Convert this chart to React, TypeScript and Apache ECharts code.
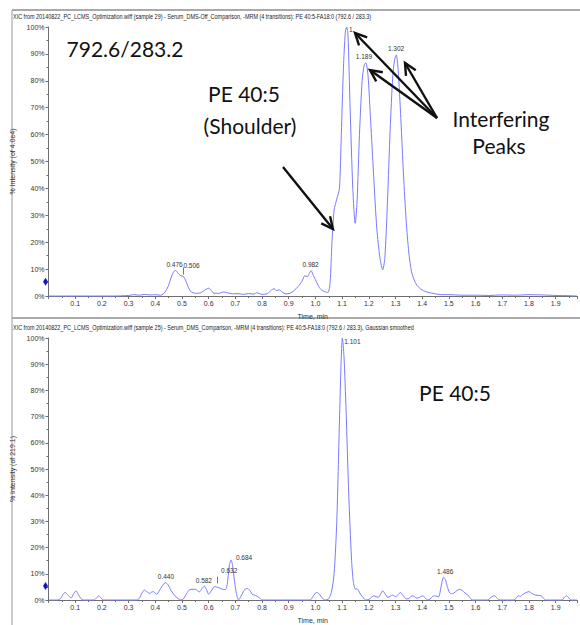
import React, { useEffect, useRef } from "react";
import * as echarts from "echarts";

// ---------- data ----------
const topTimes = [
  0.0, 0.05, 0.1, 0.15, 0.2, 0.25, 0.3, 0.32, 0.34, 0.36, 0.38, 0.4, 0.42, 0.43, 0.44, 0.45, 0.46, 0.47, 0.476,
  0.485, 0.495, 0.506, 0.515, 0.525, 0.535, 0.55, 0.57, 0.59, 0.6, 0.61, 0.62, 0.64, 0.655, 0.67, 0.69, 0.71,
  0.73, 0.75, 0.77, 0.78, 0.8, 0.82, 0.835, 0.845, 0.855, 0.865, 0.875, 0.89, 0.905, 0.92, 0.935, 0.95, 0.96,
  0.97, 0.975, 0.984, 0.99, 1.0, 1.01, 1.02, 1.035, 1.047, 1.055, 1.062, 1.07, 1.08, 1.09, 1.097, 1.105, 1.112,
  1.117, 1.122, 1.13, 1.14, 1.149, 1.156, 1.165, 1.175, 1.183, 1.189, 1.197, 1.207, 1.218, 1.23, 1.242, 1.252,
  1.26, 1.27, 1.28, 1.29, 1.297, 1.303, 1.31, 1.32, 1.33, 1.34, 1.35, 1.36, 1.37, 1.38, 1.39, 1.4, 1.42, 1.44,
  1.46, 1.48, 1.5, 1.55, 1.6, 1.65, 1.7, 1.75, 1.8, 1.85, 1.9, 1.95, 1.98,
];
const topIntensity = [
  0, 0, 0, 0, 0, 0, 0.2, 0.5, 0.3, 0.6, 0.4, 0.5, 0.3, 0.8, 2.0, 4.0, 7.0, 9.2, 9.5,
  8.5, 7.6, 7.2, 5.5, 3.0, 1.5, 1.0, 1.2, 2.5, 2.9, 2.0, 1.0, 1.0, 1.5, 1.2, 0.8, 0.9,
  0.6, 0.9, 0.7, 1.2, 0.6, 0.9, 2.2, 2.7, 2.0, 2.3, 1.5, 0.8, 1.0, 2.0, 3.5, 5.5, 7.5,
  7.2, 8.0, 9.4, 8.2, 6.0, 4.0, 2.5, 1.6, 1.3, 5.0, 20, 32, 36, 40, 60, 85, 98,
  100, 97, 70, 40, 27, 35, 60, 80, 86, 86.7, 82, 65, 45, 25, 14, 9.7,
  14, 35, 62, 82, 88, 89.6, 84, 66, 45, 28, 16, 9, 6, 4, 3, 2.2, 1.4, 1.0,
  0.6, 0.5, 0.5, 0.3, 0.3, 0.2, 0.4, 0.3, 0.5, 0.4, 0.2, 0.1, 0,
];

const bottomTimes = [
  0.0, 0.03, 0.045, 0.055, 0.062, 0.072, 0.085, 0.095, 0.103, 0.112, 0.122, 0.13, 0.17, 0.18, 0.188, 0.196,
  0.205, 0.33, 0.34, 0.35, 0.359, 0.368, 0.378, 0.386, 0.393, 0.405, 0.415, 0.425, 0.438, 0.448, 0.46, 0.472,
  0.485, 0.496, 0.505, 0.515, 0.525, 0.534, 0.55, 0.565, 0.575, 0.584, 0.592, 0.6, 0.61, 0.618, 0.625, 0.634,
  0.643, 0.655, 0.665, 0.672, 0.678, 0.684, 0.69, 0.697, 0.704, 0.712, 0.72, 0.73, 0.738, 0.746, 0.755, 0.765,
  0.771, 0.78, 0.79, 0.8, 0.98, 0.99, 1.0, 1.005, 1.015, 1.025, 1.037, 1.05, 1.06, 1.07, 1.08, 1.09, 1.096,
  1.101, 1.107, 1.115, 1.125, 1.135, 1.142, 1.15, 1.156, 1.162, 1.17, 1.18, 1.188, 1.2, 1.21, 1.219, 1.227,
  1.235, 1.244, 1.252, 1.262, 1.271, 1.28, 1.29, 1.3, 1.31, 1.318, 1.328, 1.34, 1.35, 1.358, 1.365, 1.372,
  1.38, 1.39, 1.402, 1.412, 1.42, 1.43, 1.438, 1.446, 1.455, 1.462, 1.468, 1.474, 1.48, 1.487, 1.495, 1.502,
  1.51, 1.518, 1.53, 1.54, 1.55, 1.56, 1.57, 1.58, 1.587, 1.645, 1.655, 1.665, 1.671, 1.68, 1.69, 1.745,
  1.755, 1.762, 1.768, 1.775, 1.785, 1.8, 1.81, 1.82, 1.83, 1.846, 1.855, 1.862, 1.925, 1.932, 1.94, 1.948,
  1.958, 1.98,
];
const bottomIntensity = [
  0, 0, 0.5, 2.2, 2.9, 2.0, 0.8, 2.5, 3.5, 2.0, 0.5, 0, 0, 0.8, 1.6, 0.9,
  0, 0, 0.6, 2.6, 3.8, 3.2, 2.5, 3.0, 3.2, 2.2, 3.5, 5.2, 6.6, 5.8, 3.5, 1.8,
  0.6, 0, 0.4, 2.0, 3.6, 4.1, 4.1, 3.1, 4.3, 5.3, 4.0, 2.2, 3.5, 4.8, 5.1, 4.8,
  4.5, 4.0, 4.1, 8, 13.5, 15.3, 13, 7, 2.5, 0, 1.2, 3.2, 4.2, 4.4, 3.5, 2.0,
  1.9, 1.5, 0.8, 0, 0, 1.2, 2.6, 2.9, 2.2, 0.8, 0, 0.5, 3, 10, 30, 68, 90,
  100, 93, 72, 40, 16, 7, 4.1, 4.3, 3.5, 2.0, 0.8, 0, 0.2, 1.0, 1.6, 1.3,
  1.0, 2.2, 3.5, 2.2, 1.0, 1.4, 1.9, 1.3, 2.0, 2.9, 1.8, 0.4, 0.6, 1.4, 1.6, 1.2,
  0.7, 1.0, 1.6, 0.8, 0, 0.4, 1.3, 1.6, 1.4, 1.3, 3.5, 6.8, 8.7, 7.8, 4.8, 2.9,
  2.4, 2.6, 3.6, 4.1, 3.6, 2.7, 2.0, 0.8, 0, 0, 0.8, 1.5, 1.6, 0.8, 0, 0,
  1.2, 1.6, 1.4, 2.0, 2.6, 3.2, 2.6, 2.0, 1.8, 1.6, 0.6, 0, 0, 1.0, 1.6, 1.0,
  0, 0,
];

const topPeakTimes = [1.117, 1.189, 1.302, 0.476, 0.506, 0.982];
const topPeakValues = [100, 86.7, 89.6, 9.4, 6.8, 9.4];
const topPeakLabels = ["1.", "1.189", "1.302", "0.476", "0.506", "0.982"];

const bottomPeakTimes = [1.101, 0.44, 0.582, 0.632, 0.684, 1.486];
const bottomPeakValues = [100, 6.6, 5.3, 5.1, 15.3, 8.7];
const bottomPeakLabels = ["1.101", "0.440", "0.582", "0.632", "0.684", "1.486"];

const yTickValues = [0, 10, 20, 30, 40, 50, 60, 70, 80, 90, 100];
const xTickLabels = ["0.1", "0.2", "0.3", "0.4", "0.5", "0.6", "0.7", "0.8", "0.9", "1.0", "1.1", "1.2", "1.3", "1.4", "1.5", "1.6", "1.7", "1.8", "1.9"];

const topHeader =
  "XIC from 20140822_PC_LCMS_Optimization.wiff (sample 29) - Serum_DMS-Off_Comparison, -MRM (4 transitions): PE 40:5-FA18:0 (792.6 / 283.3)";
const bottomHeader =
  "XIC from 20140822_PC_LCMS_Optimization.wiff (sample 25) - Serum_DMS_Comparison, -MRM (4 transitions): PE 40:5-FA18:0 (792.6 / 283.3), Gaussian smoothed";
const topYName = "% Intensity (of 4.0e4)";
const bottomYName = "% Intensity (of 219.1)";
const xName = "Time, min";

// ---------- styles (label offsets in px) ----------
const topLabelOffsets: [number, number][] = [[5, 8], [-2, 0], [0, 0], [-1, 0], [8, -6], [0, 0]];
const bottomLabelOffsets: [number, number][] = [[10, 9], [0, 0], [0, 0], [12, -10], [13, 4], [0, 0]];

const NARROW = "'Liberation Sans Narrow', 'Liberation Sans', Arial, sans-serif";
const BIG = "Lato, 'Open Sans', sans-serif";
const TRACE = "#7a7aff";
const AXIS = "#6e6e6e";
const LABEL = "#333333";

function arrow(x1: number, y1: number, x2: number, y2: number) {
  const a = Math.atan2(y2 - y1, x2 - x1);
  const L = 13;
  const s = 0.45;
  const p1 = [x2 - L * Math.cos(a - s), y2 - L * Math.sin(a - s)];
  const p2 = [x2 - L * Math.cos(a + s), y2 - L * Math.sin(a + s)];
  return [
    { type: "line", shape: { x1, y1, x2, y2 }, style: { stroke: "#111", lineWidth: 2.4 }, z: 100 },
    { type: "polyline", shape: { points: [p1, [x2, y2], p2] }, style: { stroke: "#111", lineWidth: 2.4, fill: null }, z: 100 },
  ];
}

function bigText(text: string, x: number, y: number) {
  return {
    type: "text",
    x,
    y,
    z: 100,
    style: {
      text,
      fontSize: 21,
      fontFamily: BIG,
      fill: "#111",
      textAlign: "center",
      textVerticalAlign: "middle",
      align: "center",
      verticalAlign: "middle",
    },
  };
}

function headerText(text: string, y: number, scaleX: number) {
  return {
    type: "text",
    x: 13,
    y,
    scaleX,
    z: 100,
    style: {
      text,
      fontSize: 7.5,
      fontFamily: "'Liberation Sans', Arial, sans-serif",
      fill: "#222",
      textAlign: "left",
      textVerticalAlign: "middle",
      align: "left",
      verticalAlign: "middle",
    },
  };
}

function xAxisCfg(gridIndex: number) {
  return {
    type: "value",
    gridIndex,
    min: 0,
    max: 1.98,
    interval: 0.1,
    name: xName,
    nameLocation: "middle",
    nameGap: 17,
    nameTextStyle: { fontSize: 7, fontFamily: NARROW, color: LABEL },
    axisLine: { show: true, onZero: false, lineStyle: { color: AXIS, width: 1 } },
    axisTick: { show: true, length: 3, lineStyle: { color: AXIS } },
    minorTick: { show: true, splitNumber: 2, length: 2, lineStyle: { color: AXIS } },
    splitLine: { show: false },
    axisLabel: {
      fontSize: 7,
      fontFamily: NARROW,
      color: LABEL,
      margin: 4,
      formatter: (v: number) => {
        const idx = Math.round(v * 10) - 1;
        if (Math.abs(v * 10 - Math.round(v * 10)) > 0.01) return "";
        return xTickLabels[idx] ?? "";
      },
    },
  };
}

function yAxisCfg(gridIndex: number, name: string) {
  return {
    type: "value",
    gridIndex,
    min: 0,
    max: 100,
    interval: 10,
    name,
    nameLocation: "middle",
    nameGap: 30,
    nameTextStyle: { fontSize: 7, fontFamily: NARROW, color: LABEL },
    axisLine: { show: true, lineStyle: { color: AXIS, width: 1 } },
    axisTick: { show: true, length: 3, lineStyle: { color: AXIS } },
    minorTick: { show: true, splitNumber: 2, length: 2, lineStyle: { color: AXIS } },
    splitLine: { show: false },
    axisLabel: {
      fontSize: 7,
      fontFamily: NARROW,
      color: LABEL,
      margin: 4,
      formatter: (v: number) => (yTickValues.includes(Math.round(v)) ? `${Math.round(v)}%` : ""),
    },
  };
}

function traceSeries(
  idx: number,
  times: number[],
  vals: number[],
  pTimes: number[],
  pVals: number[],
  pLabels: string[],
  offsets: [number, number][],
  leaders: number[]
) {
  const data = times.map((t, i) => [t, vals[i]]);
  const mp: any[] = pTimes.map((t, i) => ({
    coord: [t, pVals[i]],
    name: pLabels[i],
    symbol: "rect",
    symbolSize: [1, 1],
    itemStyle: { color: "rgba(0,0,0,0)" },
    label: {
      show: true,
      position: "top",
      distance: 2,
      offset: offsets[i],
      formatter: pLabels[i],
      fontSize: 6.5,
      fontFamily: NARROW,
      color: LABEL,
      textBorderWidth: 0,
    },
  }));
  mp.push({
    coord: [0, 5.3],
    symbol: "diamond",
    symbolSize: [5, 8],
    symbolOffset: [-3, 0],
    itemStyle: { color: "#1515c8" },
    label: { show: false },
  });
  const ml = leaders.map((i) => [
    { coord: [pTimes[i], pVals[i] + 1.2] },
    { coord: [pTimes[i], pVals[i] + 3.8] },
  ]);
  return {
    type: "line",
    xAxisIndex: idx,
    yAxisIndex: idx,
    data,
    showSymbol: false,
    symbol: "none",
    smooth: 0.25,
    clip: false,
    lineStyle: { color: TRACE, width: 1 },
    markPoint: { silent: true, label: { color: LABEL }, data: mp },
    markLine: {
      silent: true,
      symbol: "none",
      label: { show: false },
      lineStyle: { color: "#555", width: 0.8, type: "solid" },
      data: ml,
    },
  };
}

export default function App() {
  const ref = useRef<HTMLDivElement>(null);
  useEffect(() => {
    document.body.style.margin = "0";
    const chart = echarts.init(ref.current!, undefined, { renderer: "svg" });
    const graphics: any[] = [
      { type: "line", shape: { x1: 12, y1: 10, x2: 580, y2: 10 }, style: { stroke: "#555", lineWidth: 1 } },
      { type: "line", shape: { x1: 12, y1: 318, x2: 580, y2: 318 }, style: { stroke: "#555", lineWidth: 1 } },
      { type: "line", shape: { x1: 12, y1: 10, x2: 12, y2: 625 }, style: { stroke: "#999", lineWidth: 1 } },
      headerText(topHeader, 16, 0.73),
      headerText(bottomHeader, 327, 0.73),
      bigText("792.6/283.2", 125, 48),
      bigText("PE 40:5", 244, 93),
      bigText("(Shoulder)", 250, 125),
      bigText("Interfering", 501, 118),
      bigText("Peaks", 499, 145),
      bigText("PE 40:5", 455, 392),
      ...arrow(283, 167, 333, 229),
      ...arrow(437, 118, 355, 33),
      ...arrow(437, 118, 370, 70),
      ...arrow(437, 118, 405, 63),
    ];
    chart.setOption({
      animation: false,
      grid: [
        { left: 48.5, right: 2, top: 27, height: 269 },
        { left: 48.5, right: 2, top: 338, height: 268 },
      ],
      xAxis: [xAxisCfg(0), xAxisCfg(1)],
      yAxis: [yAxisCfg(0, topYName), yAxisCfg(1, bottomYName)],
      series: [
        traceSeries(0, topTimes, topIntensity, topPeakTimes, topPeakValues, topPeakLabels, topLabelOffsets, [4]),
        traceSeries(1, bottomTimes, bottomIntensity, bottomPeakTimes, bottomPeakValues, bottomPeakLabels, bottomLabelOffsets, [3]),
      ],
      graphic: graphics,
    });
    return () => chart.dispose();
  }, []);
  return <div ref={ref} style={{ width: 580, height: 625 }} />;
}
